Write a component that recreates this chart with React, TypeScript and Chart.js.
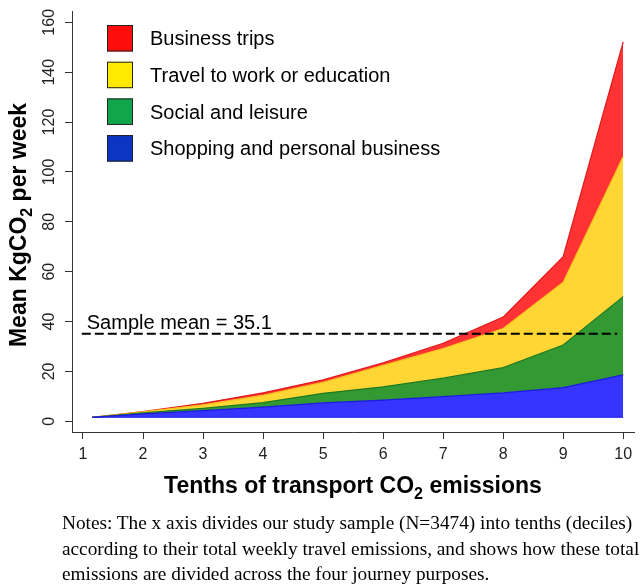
import React, { useEffect, useRef } from "react";
import { Chart, registerables } from "chart.js";

Chart.register(...registerables);

// ---- data ----
const decileX = [1.15, 2, 3, 4, 5, 6, 7, 8, 9, 10];
const baseline = 1.6;
const shoppingPersonal = [0, 1.4, 2.7, 4.1, 5.8, 6.9, 8.3, 9.8, 11.9, 17.0];
const socialLeisure = [0, 0.4, 0.9, 1.8, 3.8, 5.3, 7.4, 10.1, 17.1, 31.4];
const travelWorkEducation = [0, 0.4, 1.4, 2.9, 4.4, 8.6, 11.9, 15.7, 25.2, 56.2];
const businessTrips = [0, 0.1, 0.6, 1.0, 1.0, 1.0, 2.1, 4.6, 10.2, 45.9];
const sampleMean = 35.1;
const meanLineSpan = [0.98, 9.9];
const xTickValues = [1, 2, 3, 4, 5, 6, 7, 8, 9, 10];
const yTickValues = [0, 20, 40, 60, 80, 100, 120, 140, 160];
const legendLabels = [
  "Business trips",
  "Travel to work or education",
  "Social and leisure",
  "Shopping and personal business",
];
const legendColors = ["#ff0d0d", "#ffe900", "#12a64b", "#0b36c4"];
const noteLines = [
  "Notes: The x axis divides our study sample (N=3474) into tenths (deciles)",
  "according to their total weekly travel emissions, and shows how these total",
  "emissions are divided across the four journey purposes.",
];

const SANS = '"Liberation Sans", Arial, Helvetica, sans-serif';

function stackedTop(layers: number[][]) {
  return decileX.map((x, i) => ({
    x,
    y: baseline + layers.reduce((s, arr) => s + arr[i], 0),
  }));
}

type Part = [string, boolean];

function measureParts(ctx: CanvasRenderingContext2D, parts: Part[], size: number, subSize: number) {
  let w = 0;
  for (const [t, sub] of parts) {
    ctx.font = `bold ${sub ? subSize : size}px ${SANS}`;
    w += ctx.measureText(t).width;
  }
  return w;
}

function drawParts(
  ctx: CanvasRenderingContext2D,
  parts: Part[],
  x: number,
  y: number,
  size: number,
  subSize: number,
  subDrop: number
) {
  let cx = x;
  for (const [t, sub] of parts) {
    ctx.font = `bold ${sub ? subSize : size}px ${SANS}`;
    ctx.fillText(t, cx, sub ? y + subDrop : y);
    cx += ctx.measureText(t).width;
  }
}

const annotations = {
  id: "annotations",
  afterDraw(chart: any) {
    const ctx: CanvasRenderingContext2D = chart.ctx;
    const xs = chart.scales.x;
    const ys = chart.scales.y;
    const area = chart.chartArea;
    ctx.save();
    ctx.fillStyle = "#000";
    ctx.textAlign = "left";
    ctx.textBaseline = "alphabetic";

    // legend
    legendLabels.forEach((label, i) => {
      const top = 25 + i * 36.7;
      ctx.fillStyle = legendColors[i];
      ctx.fillRect(107, top, 26, 26.5);
      ctx.strokeStyle = "#222";
      ctx.lineWidth = 1;
      ctx.strokeRect(107.5, top + 0.5, 25, 25.5);
      ctx.fillStyle = "#000";
      ctx.font = `20px ${SANS}`;
      ctx.fillText(label, 150, top + 13.25 + 7);
    });

    // sample mean label
    ctx.font = `20px ${SANS}`;
    ctx.fillText(
      `Sample mean = ${sampleMean}`,
      xs.getPixelForValue(meanLineSpan[0]) + 5,
      ys.getPixelForValue(sampleMean) - 5
    );

    // x axis title
    const xParts: Part[] = [["Tenths of transport CO", false], ["2", true], [" emissions", false]];
    const xw = measureParts(ctx, xParts, 23, 16);
    drawParts(ctx, xParts, (area.left + area.right) / 2 - xw / 2, 493, 23, 16, 6);

    // y axis title
    const yParts: Part[] = [["Mean KgCO", false], ["2", true], [" per week", false]];
    const yw = measureParts(ctx, yParts, 23, 16);
    ctx.translate(25.5, 225);
    ctx.rotate(-Math.PI / 2);
    drawParts(ctx, yParts, -yw / 2, 0, 23, 16, 6);
    ctx.restore();
  },
};

export default function App() {
  const canvasRef = useRef<HTMLCanvasElement | null>(null);

  useEffect(() => {
    const canvas = canvasRef.current;
    if (!canvas) return;

    const area = (data: { x: number; y: number }[], fill: number, bg: string, line: string) => ({
      data,
      fill,
      backgroundColor: bg,
      borderColor: line,
      borderWidth: 1.2,
      pointRadius: 0,
      tension: 0,
    });

    const chart = new Chart(canvas, {
      type: "line",
      data: {
        datasets: [
          {
            data: meanLineSpan.map((x) => ({ x, y: sampleMean })),
            borderColor: "#000",
            borderWidth: 2,
            borderDash: [9, 4],
            pointRadius: 0,
            fill: false,
          },
          {
            data: decileX.map((x) => ({ x, y: baseline })),
            borderColor: "#2222dd",
            borderWidth: 1,
            pointRadius: 0,
            fill: false,
          },
          area(stackedTop([shoppingPersonal]), 1, "#3535ff", "#1c1cd8"),
          area(stackedTop([shoppingPersonal, socialLeisure]), 2, "#339933", "#1f7a1f"),
          area(
            stackedTop([shoppingPersonal, socialLeisure, travelWorkEducation]),
            3,
            "#ffd633",
            "#f2c21f"
          ),
          area(
            stackedTop([shoppingPersonal, socialLeisure, travelWorkEducation, businessTrips]),
            4,
            "#ff3333",
            "#e01b1b"
          ),
        ],
      },
      options: {
        responsive: false,
        animation: false,
        events: [],
        layout: { padding: { top: 4, right: 8, left: 0, bottom: 0 } },
        plugins: {
          legend: { display: false },
          tooltip: { enabled: false },
        },
        scales: {
          x: {
            type: "linear",
            min: 0.817,
            max: 10.18,
            afterBuildTicks: (s: any) => {
              s.ticks = xTickValues.map((v) => ({ value: v }));
            },
            afterFit: (s: any) => {
              s.height = 155;
            },
            ticks: {
              font: { family: SANS, size: 16 },
              color: "#222",
              padding: 6,
              maxRotation: 0,
              callback: (v: any) => String(v),
            },
            grid: { drawOnChartArea: false, drawTicks: true, tickLength: 7, color: "#333", lineWidth: 1 },
            border: { display: true, color: "#333", width: 1 },
          },
          y: {
            type: "linear",
            min: -4.3,
            max: 164.3,
            afterBuildTicks: (s: any) => {
              s.ticks = yTickValues.map((v) => ({ value: v }));
            },
            afterFit: (s: any) => {
              s.width = 72;
            },
            ticks: {
              font: { family: SANS, size: 16 },
              color: "#222",
              padding: 2,
              minRotation: 90,
              maxRotation: 90,
              crossAlign: "center",
              callback: (v: any) => String(v),
            },
            grid: { drawOnChartArea: false, drawTicks: true, tickLength: 7, color: "#333", lineWidth: 1 },
            border: { display: true, color: "#333", width: 1 },
          },
        },
      } as any,
      plugins: [annotations],
    });

    return () => chart.destroy();
  }, []);

  return (
    <div style={{ position: "absolute", left: 0, top: 0, width: 642, height: 587, background: "#fff", overflow: "hidden" }}>
      <canvas
        ref={canvasRef}
        width={642}
        height={587}
        style={{ position: "absolute", left: 0, top: 0, width: 642, height: 587, display: "block" }}
      />
      <div
        style={{
          position: "absolute",
          left: 62,
          top: 510,
          fontFamily: '"Liberation Serif", "Times New Roman", serif',
          fontSize: 19.3,
          lineHeight: "25.7px",
          whiteSpace: "nowrap",
          color: "#000",
        }}
      >
        {noteLines.map((l, i) => (
          <div key={i}>{l}</div>
        ))}
      </div>
    </div>
  );
}
